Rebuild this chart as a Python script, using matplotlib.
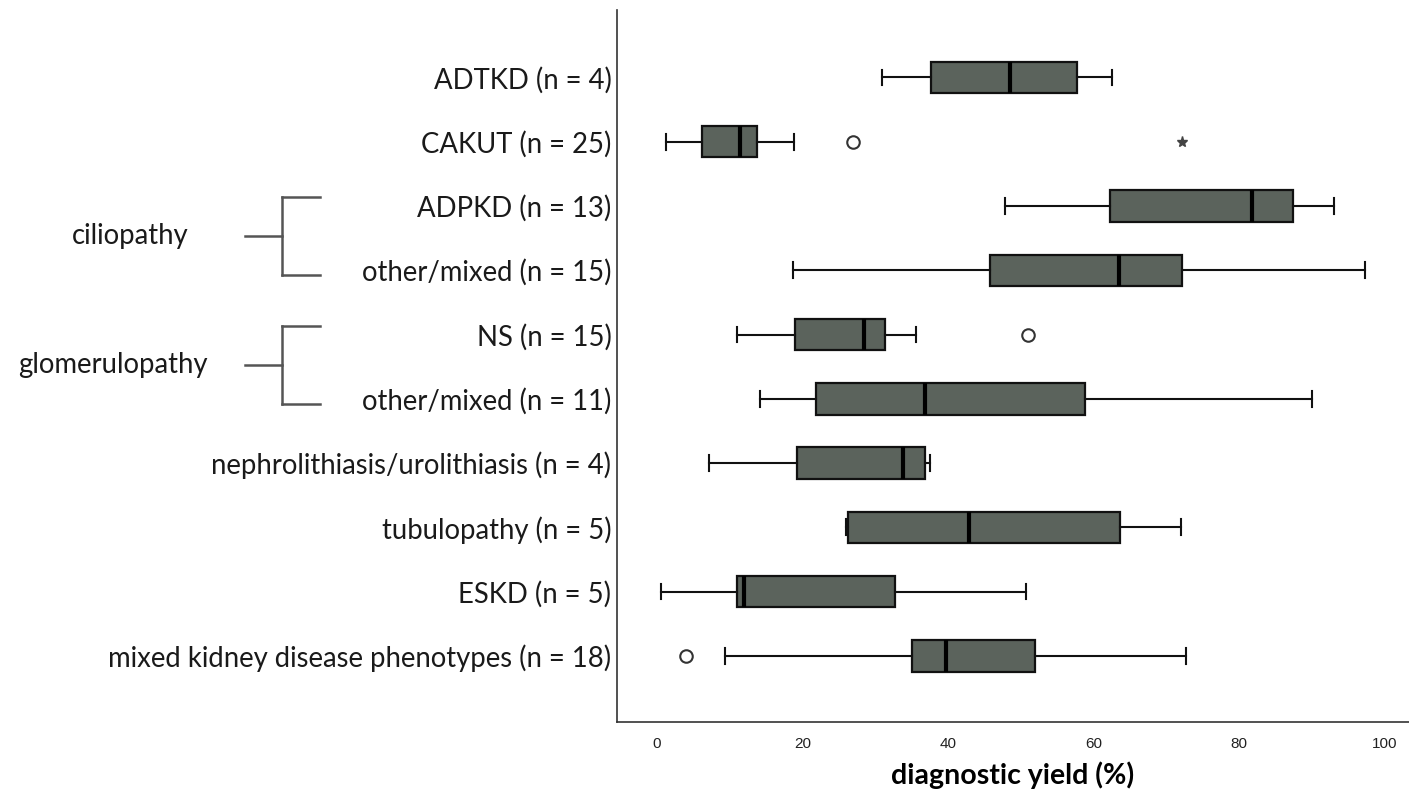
import matplotlib
matplotlib.use("Agg")
import matplotlib.pyplot as plt

# categories, top to bottom
labels = ["ADTKD (n = 4)", "CAKUT (n = 25)", "ADPKD (n = 13)", "other/mixed (n = 15)",
          "NS (n = 15)", "other/mixed (n = 11)", "nephrolithiasis/urolithiasis (n = 4)",
          "tubulopathy (n = 5)", "ESKD (n = 5)", "mixed kidney disease phenotypes (n = 18)"]

# five-number summaries (diagnostic yield, %)
whislo = [31.0, 1.3, 47.9, 18.7, 11.0, 14.2, 7.1, 26.0, 0.5, 9.4]
q1 = [37.7, 6.2, 62.3, 45.8, 19.0, 21.8, 19.3, 26.3, 11.0, 35.0]
med = [48.6, 11.4, 81.8, 63.5, 28.4, 36.8, 33.8, 42.9, 12.0, 39.7]
q3 = [57.8, 13.8, 87.5, 72.2, 31.3, 58.9, 36.8, 63.7, 32.7, 52.0]
whishi = [62.5, 18.8, 93.1, 97.3, 35.6, 90.0, 37.5, 72.0, 50.8, 72.8]
outliers = [[], [27.0], [], [], [51.0], [], [], [], [], [4.0]]
extremes = [[], [72.2], [], [], [], [], [], [], [], []]

groups = ["ciliopathy", "glomerulopathy"]
group_rows = [(2, 3), (4, 5)]

box_color = "#5b635c"

fig = plt.figure(figsize=(14.09, 7.97), dpi=100)
ax = fig.add_axes([617 / 1409, 75 / 797, 792 / 1409, 712 / 797])

stats = []
for i in range(len(labels)):
    stats.append(dict(whislo=whislo[i], q1=q1[i], med=med[i], q3=q3[i],
                      whishi=whishi[i], fliers=outliers[i]))

pos = list(range(len(labels)))
ax.bxp(stats, positions=pos, widths=0.49, vert=False, patch_artist=True,
       boxprops=dict(facecolor=box_color, edgecolor="#111111", linewidth=1.6),
       medianprops=dict(color="black", linewidth=3),
       whiskerprops=dict(color="#111111", linewidth=1.5),
       capprops=dict(color="#111111", linewidth=1.5),
       flierprops=dict(marker="o", markersize=9, markerfacecolor="white",
                       markeredgecolor="#333333", markeredgewidth=1.5))

for i, ext in enumerate(extremes):
    if ext:
        ax.plot(ext, [i] * len(ext), linestyle="none", marker="*", markersize=8,
                color="#444444")

ax.set_xlim(-5.5, 103.4)
ax.set_ylim(9 + 1.03, -1.05)
ax.set_xticks([0, 20, 40, 60, 80, 100])
ax.set_yticks(pos)
ax.set_yticklabels(labels, fontfamily="Lato", fontsize=19.8, color="#1a1a1a")
for t in ax.get_xticklabels():
    t.set_fontfamily("Liberation Sans")
    t.set_fontsize(11)
    t.set_color("#222222")
ax.tick_params(axis="x", length=0, pad=11)
ax.tick_params(axis="y", length=0, pad=4)
ax.spines["top"].set_visible(False)
ax.spines["right"].set_visible(False)
ax.spines["left"].set_color("#333333")
ax.spines["bottom"].set_color("#333333")
ax.spines["left"].set_linewidth(1.2)
ax.spines["bottom"].set_linewidth(1.2)
ax.set_xlabel("diagnostic yield (%)", fontfamily="Lato", fontweight="bold",
              fontsize=20.5, labelpad=7)

# group brackets on the left
trans = ax.get_yaxis_transform()
def px(x):
    return (x - 617) / 792

label_right = [189, 208]
for name, (a, b), xr in zip(groups, group_rows, label_right):
    top = a - 0.14
    bot = b + 0.08
    mid = (top + bot) / 2
    kw = dict(color="#555555", linewidth=1.8, transform=trans, clip_on=False)
    ax.plot([px(282), px(320)], [top, top], **kw)
    ax.plot([px(282), px(320)], [bot, bot], **kw)
    ax.plot([px(282), px(282)], [top, bot], **kw)
    ax.plot([px(245), px(282)], [mid, mid], **kw)
    ax.text(px(xr), mid, name, transform=trans, ha="right", va="center",
            fontfamily="Lato", fontsize=19.8, color="#1a1a1a")

fig.savefig("out.png", dpi=100)
